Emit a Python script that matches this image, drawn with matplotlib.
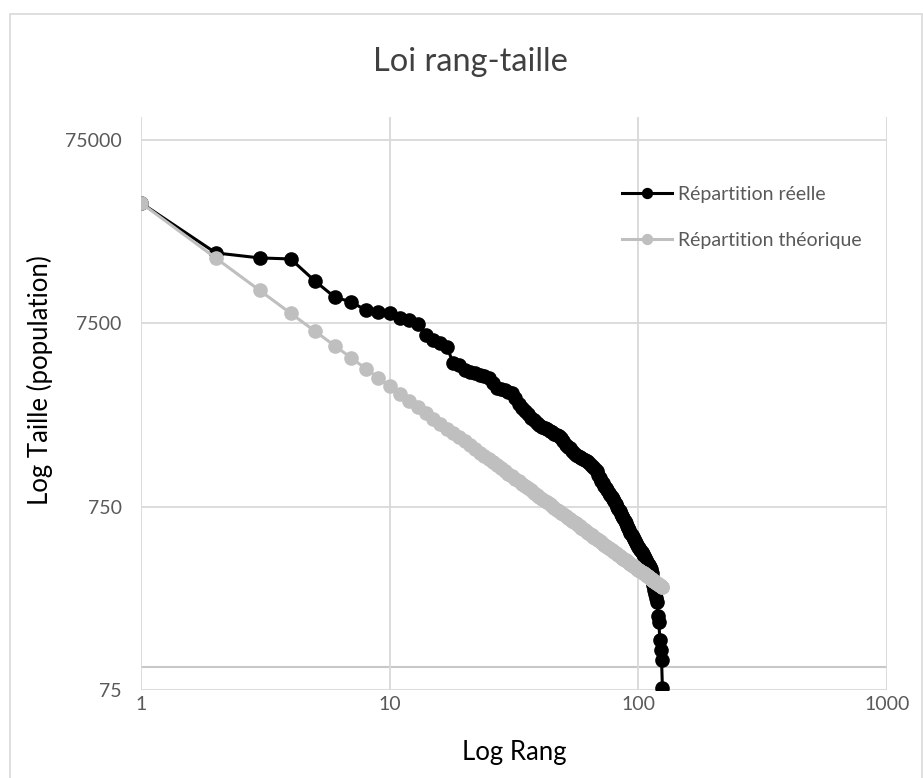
import matplotlib
matplotlib.use("Agg")
import matplotlib.pyplot as plt
from matplotlib.patches import Rectangle

plt.rcParams['font.family'] = ['Lato', 'DejaVu Sans']

# rangs des villes
rangs = list(range(1, 126))

reelle = [34000, 18140, 17040, 16820, 12760, 10440, 9800, 8865, 8645, 8540,
          8017, 7820, 7435, 6476, 6081, 5856, 5569, 4555, 4442, 4172,
          4069, 4018, 3917, 3869, 3773, 3543, 3328, 3287, 3246, 3164,
          3124, 2935, 2721, 2588, 2492, 2401, 2283, 2226, 2144, 2091,
          2039, 2013, 1988, 1939, 1915, 1867, 1844, 1821, 1776, 1710,
          1627, 1586, 1566, 1508, 1471, 1434, 1416, 1399, 1381, 1364,
          1346, 1330, 1313, 1281, 1249, 1234, 1203, 1173, 1116, 1074,
          1035, 1009, 972, 948, 924, 890, 868, 846, 825, 805,
          775, 746, 728, 710, 683, 666, 650, 626, 610, 588,
          573, 559, 538, 525, 512, 499, 487, 475, 463, 452,
          446, 435, 424, 414, 403, 393, 384, 374, 365, 360,
          351, 342, 326, 306, 280, 263, 250, 238, 226, 190,
          176, 140, 124, 109, 77]

# population théorique (loi rang-taille)
theorique = [34000, 17000, 11333, 8500, 6800, 5667, 4857, 4250, 3778, 3400,
             3091, 2833, 2615, 2429, 2267, 2125, 2000, 1889, 1789, 1700,
             1619, 1545, 1478, 1417, 1360, 1308, 1259, 1214, 1172, 1133,
             1097, 1063, 1030, 1000, 971, 944, 919, 895, 872, 850,
             829, 810, 791, 773, 756, 739, 723, 708, 694, 680,
             667, 654, 642, 630, 618, 607, 596, 586, 576, 567,
             557, 548, 540, 531, 523, 515, 507, 500, 493, 486,
             479, 472, 466, 459, 453, 447, 442, 436, 430, 425,
             420, 415, 410, 405, 400, 395, 391, 386, 382, 378,
             374, 370, 366, 362, 358, 354, 351, 347, 343, 340,
             337, 333, 330, 327, 324, 321, 318, 315, 312, 309,
             306, 304, 301, 298, 296, 293, 291, 288, 286, 283,
             281, 279, 276, 274, 272]

x_ticks = [1, 10, 100, 1000]
y_ticks = [75, 750, 7500, 75000]

W, H = 923, 778
fig = plt.figure(figsize=(W / 100, H / 100), dpi=100)
fig.patches.append(Rectangle((10 / W, -0.01), 912 / W, (H - 14) / H + 0.01,
                             transform=fig.transFigure, fill=False,
                             edgecolor='#d9d9d9', lw=1.2))

# zone de tracé : 75 en bas (690 px), 100000 en haut (~117 px)
ax = fig.add_axes([141 / W, 1 - 690 / H, (887 - 141) / W, (690 - 117) / H])
ax.set_xscale('log')
ax.set_yscale('log')
ax.set_xlim(1, 1000)
ax.set_ylim(75, 100000)

ax.plot(rangs, reelle, color='black', lw=2.2, marker='o', ms=9.5,
        label='Répartition réelle', zorder=3)
ax.plot(rangs, theorique, color='#bfbfbf', lw=2.2, marker='o', ms=9.5,
        label='Répartition théorique', zorder=4)

ax.set_xticks(x_ticks)
ax.set_xticklabels([str(v) for v in x_ticks])
ax.set_yticks(y_ticks)
ax.set_yticklabels([str(v) for v in y_ticks])
ax.minorticks_off()
ax.grid(True, which='major', color='#d9d9d9', lw=1.3)
ax.axhline(100, color='#c8c8c8', lw=1.5, zorder=1)
for s in ax.spines.values():
    s.set_visible(False)
ax.tick_params(axis='x', length=0, pad=4, labelsize=14, labelcolor='#595959')
ax.tick_params(axis='y', length=0, pad=14, labelsize=14, labelcolor='#595959')

ax.set_xlabel('Log Rang', fontsize=18.5, color='#000000', labelpad=20)
ax.set_ylabel('Log Taille (population)', fontsize=18.5, color='#000000')
ax.yaxis.set_label_coords(-0.118, (690 - 380) / (690 - 117))
fig.text(470 / W, 1 - 62 / H, 'Loi rang-taille', fontsize=23.5, color='#404040',
         ha='center', va='center')

ax.legend(loc='upper left', bbox_to_anchor=((604 - 141) / (887 - 141), 0.91),
          frameon=False, fontsize=14, handlelength=2.6, labelspacing=1.5,
          handletextpad=0.3, labelcolor='#595959', markerscale=0.75)

fig.savefig('out.png', dpi=100)
